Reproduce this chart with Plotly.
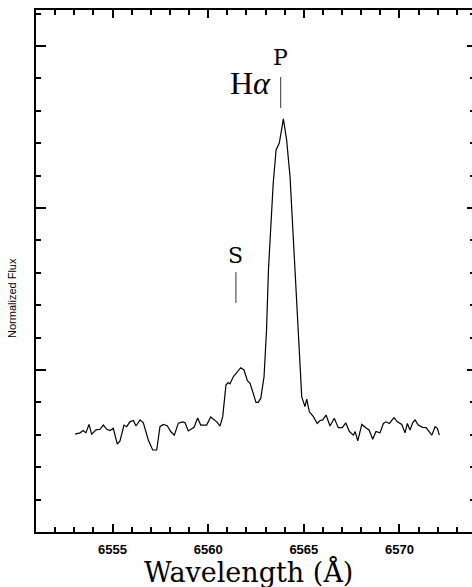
import plotly.graph_objects as go

wavelength = [6553.04, 6553.30, 6553.47, 6553.61, 6553.77, 6553.91, 6554.14, 6554.35, 6554.52, 6554.70,
              6554.87, 6555.04, 6555.25, 6555.39, 6555.60, 6555.74, 6555.91, 6556.09, 6556.23, 6556.44,
              6556.61, 6556.87, 6557.10, 6557.31, 6557.48, 6557.65, 6557.86, 6558.04, 6558.23, 6558.44,
              6558.67, 6558.79, 6558.96, 6559.26, 6559.45, 6559.61, 6559.92, 6560.13, 6560.45, 6560.62,
              6560.76, 6560.93, 6561.05, 6561.14, 6561.31, 6561.49, 6561.70, 6561.87, 6562.05, 6562.19,
              6562.36, 6562.50, 6562.62, 6562.75, 6562.92, 6563.05, 6563.15, 6563.28, 6563.40, 6563.55,
              6563.72, 6563.93, 6564.10, 6564.28, 6564.49, 6564.71, 6564.89, 6565.06, 6565.15, 6565.29,
              6565.50, 6565.70, 6565.85, 6565.99, 6566.16, 6566.37, 6566.59, 6566.80, 6567.01, 6567.19,
              6567.38, 6567.59, 6567.68, 6567.82, 6568.03, 6568.24, 6568.41, 6568.60, 6568.77, 6568.98,
              6569.16, 6569.30, 6569.47, 6569.71, 6569.89, 6570.12, 6570.29, 6570.41, 6570.55, 6570.69,
              6570.81, 6570.98, 6571.21, 6571.39, 6571.60, 6571.69, 6571.86, 6571.98, 6572.08]
flux = [1.002, 1.006, 1.013, 1.006, 1.032, 1.002, 1.015, 1.017, 1.030, 1.017,
        1.013, 1.020, 0.971, 0.981, 1.030, 1.025, 1.040, 1.044, 1.027, 1.046,
        1.037, 0.984, 0.953, 0.953, 1.025, 1.032, 1.028, 1.010, 0.999, 1.036,
        1.040, 1.037, 1.012, 1.023, 1.052, 1.030, 1.030, 1.055, 1.040, 1.027,
        1.056, 1.154, 1.161, 1.157, 1.179, 1.192, 1.207, 1.200, 1.167, 1.159,
        1.123, 1.100, 1.100, 1.113, 1.179, 1.323, 1.509, 1.663, 1.777, 1.879,
        1.901, 1.975, 1.910, 1.796, 1.570, 1.314, 1.117, 1.087, 1.110, 1.071,
        1.056, 1.035, 1.044, 1.046, 1.061, 1.027, 1.051, 1.022, 1.022, 1.037,
        1.010, 0.999, 1.010, 0.981, 1.032, 1.022, 1.015, 0.986, 1.010, 1.006,
        1.035, 1.040, 1.035, 1.053, 1.040, 1.032, 1.006, 1.035, 1.015, 1.037,
        1.046, 1.030, 1.023, 1.022, 1.005, 0.999, 1.025, 1.020, 0.999]

x_range = [6551.0, 6573.79]
y_range = [0.7, 2.311]
x_tickvals = [6555, 6560, 6565, 6570]
x_ticktext = ["6555", "6560", "6565", "6570"]

line_labels = ["P", "S"]
line_x = [6563.79, 6561.45]
line_y0 = [2.009, 1.407]
line_y1 = [2.104, 1.502]
label_y = [2.163, 1.552]
halpha_pos = (6562.19, 2.086)

PLOT_W = 436

fig = go.Figure()
fig.add_trace(go.Scatter(x=wavelength, y=flux, mode="lines",
                         line=dict(color="black", width=1.2), showlegend=False, hoverinfo="skip"))
fig.add_trace(go.Scatter(x=[wavelength[0]], y=[flux[0]], yaxis="y2", mode="markers",
                         marker=dict(opacity=0), showlegend=False, hoverinfo="skip"))

for lab, lx, y0, y1, ly in zip(line_labels, line_x, line_y0, line_y1, label_y):
    fig.add_shape(type="line", x0=lx, x1=lx, y0=y0, y1=y1, xref="x", yref="y",
                  line=dict(color="#333333", width=1))
    fig.add_annotation(x=lx, y=ly, xref="x", yref="y", text=lab, showarrow=False,
                       font=dict(family="DejaVu Serif", size=22, color="black"),
                       xanchor="center", yanchor="middle")

fig.add_annotation(x=halpha_pos[0], y=halpha_pos[1], xref="x", yref="y", text="H<i>α</i>",
                   showarrow=False, font=dict(family="Liberation Serif", size=32, color="black"),
                   xanchor="center", yanchor="middle")

fig.add_annotation(x=-24 / PLOT_W, y=(532 - 298) / 522, xref="paper", yref="paper",
                   text="Normalized Flux", textangle=-90, showarrow=False,
                   font=dict(family="Liberation Sans", size=11, color="black"),
                   xanchor="center", yanchor="middle")
fig.add_annotation(x=(248 - 36) / PLOT_W, y=-40 / 522, xref="paper", yref="paper",
                   text="Wavelength (Å)", showarrow=False,
                   font=dict(family="DejaVu Serif", size=27, color="black"),
                   xanchor="center", yanchor="middle")

fig.update_layout(
    width=472, height=587,
    margin=dict(l=36, r=0, t=10, b=55),
    paper_bgcolor="white", plot_bgcolor="white",
    xaxis=dict(range=x_range, showgrid=False, zeroline=False,
               showline=True, linecolor="black", linewidth=2, mirror="ticks",
               ticks="inside", ticklen=8, tickwidth=1.5, tickcolor="black",
               tickvals=x_tickvals, ticktext=x_ticktext,
               tickfont=dict(family="Liberation Sans", size=13, color="black", weight="bold"),
               ticklabelstandoff=4,
               minor=dict(dtick=1, tick0=6551, ticks="inside", ticklen=5, tickwidth=1.5,
                          tickcolor="black", showgrid=False)),
    yaxis=dict(range=y_range, showgrid=False, zeroline=False,
               showline=True, linecolor="black", linewidth=2, mirror=False,
               ticks="inside", ticklen=10, tickwidth=1.5, tickcolor="black",
               tick0=0.7, dtick=0.5, showticklabels=False,
               minor=dict(dtick=0.1, tick0=0.7, ticks="inside", ticklen=5, tickwidth=1.5,
                          tickcolor="black", showgrid=False)),
    yaxis2=dict(range=y_range, overlaying="y", side="right", anchor="x",
                showgrid=False, zeroline=False, showline=False,
                linecolor="rgba(0,0,0,0)", gridcolor="rgba(0,0,0,0)",
                ticks="inside", ticklen=5, tickwidth=1.5, tickcolor="black",
                tick0=0.7, dtick=0.5, showticklabels=False,
                minor=dict(dtick=0.1, tick0=0.7, ticks="inside", ticklen=2, tickwidth=1.5,
                           tickcolor="black", showgrid=False)),
)

fig.write_html(
    "out.html",
    post_script="document.body.style.margin='0';document.body.style.overflow='hidden';"
                "document.documentElement.style.overflow='hidden';",
)
